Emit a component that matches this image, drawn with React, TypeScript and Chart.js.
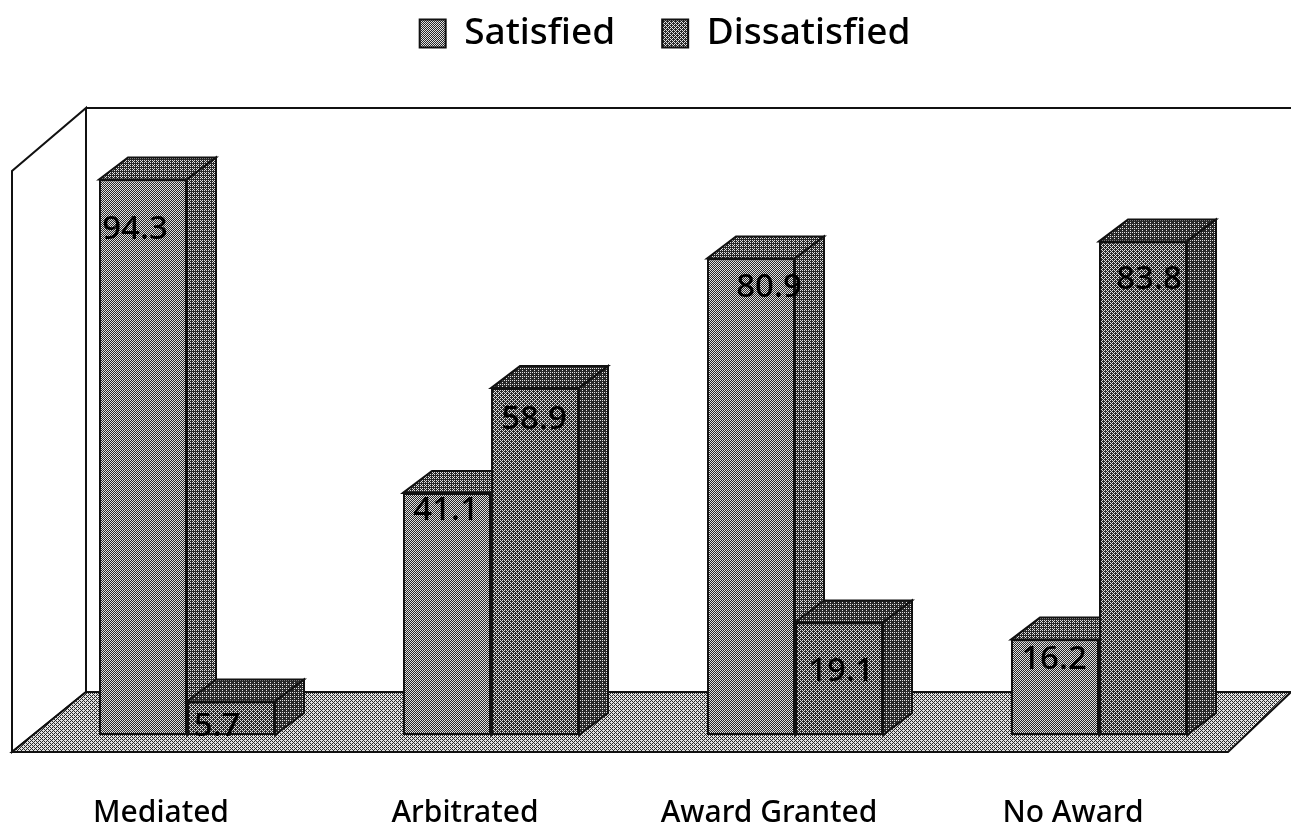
import React, { useEffect, useRef } from "react";
import { Chart, registerables } from "chart.js";

Chart.register(...registerables);

const categories = ["Mediated", "Arbitrated", "Award Granted", "No Award"];
const satisfied = [94.3, 41.1, 80.9, 16.2];
const dissatisfied = [5.7, 58.9, 19.1, 83.8];

// Label nudges (dx, dy from the top centre of each front face), as placed in the picture
const satisfiedLabelNudge = [[-8, 50], [-1, 18], [18, 29], [-1, 20]];
const dissatisfiedLabelNudge = [[-14, 25], [-1, 32], [2, 49], [6, 38]];

const FONT = "'Noto Sans', sans-serif";
const DEPTH_X = 29;
const DEPTH_Y = 22;

const BAYER = [
  [0, 8, 2, 10],
  [12, 4, 14, 6],
  [3, 11, 1, 9],
  [15, 7, 13, 5],
];

function halftone(level: number, dark = 40, light = 225) {
  const c = document.createElement("canvas");
  c.width = 4;
  c.height = 4;
  const g = c.getContext("2d")!;
  const t = (level - dark) / (light - dark);
  for (let y = 0; y < 4; y++) {
    for (let x = 0; x < 4; x++) {
      const on = (BAYER[y][x] + 0.5) / 16 < t;
      const v = on ? light : dark;
      g.fillStyle = `rgb(${v},${v},${v})`;
      g.fillRect(x, y, 1, 1);
    }
  }
  return g.createPattern(c, "repeat")!;
}

function poly(ctx: CanvasRenderingContext2D, pts: number[][], fill?: any, stroke = true, lw = 2) {
  ctx.beginPath();
  pts.forEach((p, i) => (i ? ctx.lineTo(p[0], p[1]) : ctx.moveTo(p[0], p[1])));
  ctx.closePath();
  if (fill) {
    ctx.fillStyle = fill;
    ctx.fill();
  }
  if (stroke) {
    ctx.strokeStyle = "#111";
    ctx.lineWidth = lw;
    ctx.lineJoin = "miter";
    ctx.stroke();
  }
}

export default function App() {
  const ref = useRef<HTMLCanvasElement>(null);
  useEffect(() => {
    const frontA = halftone(128);
    const frontB = halftone(108);
    const topA = halftone(100);
    const topB = halftone(80);
    const sideA = halftone(95);
    const sideB = halftone(78);
    const floor = halftone(160);

    const faces = (ctx: CanvasRenderingContext2D, meta: any, first: boolean) => {
      meta.data.forEach((bar: any) => {
        const l = bar.x - bar.width / 2;
        const r = bar.x + bar.width / 2;
        poly(ctx, [[l, bar.y], [l + DEPTH_X, bar.y - DEPTH_Y], [r + DEPTH_X, bar.y - DEPTH_Y], [r, bar.y]], first ? topA : topB);
        poly(ctx, [[r, bar.y], [r + DEPTH_X, bar.y - DEPTH_Y], [r + DEPTH_X, bar.base - DEPTH_Y], [r, bar.base]], first ? sideA : sideB);
      });
    };

    const stage = {
      id: "stage",
      afterLayout(chart: any) {
        chart.legend.left += 22;
        chart.legend.right += 22;
        chart.legend.top -= 84;
      },
      beforeDatasetsDraw(chart: any) {
        const { ctx, chartArea: a, scales } = chart;
        const y0 = scales.y.getPixelForValue(0);
        const floorFront = y0 + 17;
        const floorBack = y0 - 43;
        const wallLeft = a.left - 23;
        const backLeft = a.left + 51;
        const wallTop = scales.y.getPixelForValue(100) - 38;
        ctx.save();
        poly(ctx, [[wallLeft, floorFront], [wallLeft, wallTop + 63], [backLeft, wallTop], [backLeft, floorBack]], "#fff");
        ctx.beginPath();
        ctx.moveTo(backLeft, wallTop);
        ctx.lineTo(chart.width, wallTop);
        ctx.strokeStyle = "#111";
        ctx.lineWidth = 2;
        ctx.stroke();
        poly(ctx, [[wallLeft, floorFront], [a.right - 23, floorFront], [chart.width, floorBack], [backLeft, floorBack]], floor);
        ctx.restore();
      },
      // Datasets are painted last to first, so Satisfied comes last; Dissatisfied must sit in front of it.
      afterDatasetDraw(chart: any, args: any) {
        if (args.index !== 0) return;
        const { ctx } = chart;
        ctx.save();
        faces(ctx, args.meta, true);
        const front = chart.getDatasetMeta(1);
        front.data.forEach((bar: any) => bar.draw(ctx));
        faces(ctx, front, false);
        ctx.restore();
      },
      afterDatasetsDraw(chart: any) {
        const { ctx } = chart;
        ctx.save();
        ctx.font = `500 33px ${FONT}`;
        ctx.textAlign = "center";
        ctx.textBaseline = "middle";
        ctx.fillStyle = "#000";
        chart.data.datasets.forEach((ds: any, i: number) => {
          const nudge = i === 0 ? satisfiedLabelNudge : dissatisfiedLabelNudge;
          chart.getDatasetMeta(i).data.forEach((bar: any, j: number) => {
            ctx.fillText(String(ds.data[j]), bar.x + nudge[j][0], bar.y + nudge[j][1]);
          });
        });
        ctx.restore();
      },
    };

    const chart = new Chart(ref.current!, {
      type: "bar",
      plugins: [stage],
      data: {
        labels: categories,
        datasets: [
          { label: "Satisfied", data: satisfied, backgroundColor: frontA, borderColor: "#111", borderWidth: 2, borderSkipped: false },
          { label: "Dissatisfied", data: dissatisfied, backgroundColor: frontB, borderColor: "#111", borderWidth: 2, borderSkipped: false },
        ],
      },
      options: {
        responsive: false,
        animation: false,
        layout: { padding: { left: 35, right: 40, top: 52, bottom: 0 } },
        datasets: { bar: { categoryPercentage: 0.579, barPercentage: 1 } },
        plugins: {
          tooltip: { enabled: false },
          legend: {
            position: "top",
            labels: {
              color: "#000",
              boxWidth: 26,
              boxHeight: 28,
              padding: 47,
              font: { family: FONT, size: 37, weight: "500" },
            },
          },
        },
        scales: {
          x: {
            grid: { display: false },
            border: { display: false },
            ticks: { color: "#000", padding: 52, labelOffset: -26, maxRotation: 0, font: { family: FONT, size: 30, weight: "500" } },
            afterFit: (s: any) => {
              s.height = 91;
            },
          },
          y: { display: false, min: 0, max: 100 },
        },
      },
    } as any);
    return () => chart.destroy();
  }, []);
  return (
    <canvas
      ref={ref}
      width={1291}
      height={826}
      style={{ position: "fixed", left: 0, top: 0, width: 1291, height: 826, background: "#fff", display: "block" }}
    />
  );
}
